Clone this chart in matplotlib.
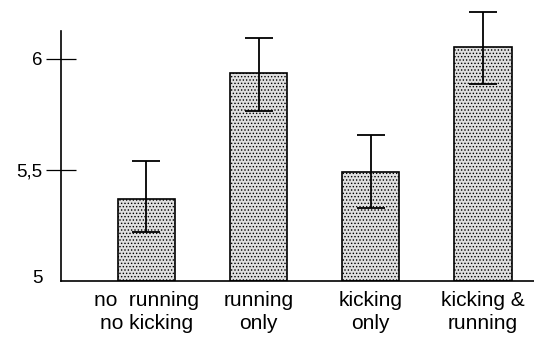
import matplotlib
matplotlib.use("Agg")
import matplotlib.pyplot as plt
import matplotlib.transforms as mtransforms

categories = ["no  running\nno kicking", "running\nonly", "kicking\nonly", "kicking &\nrunning"]
means = [5.37, 5.935, 5.49, 6.055]
err_upper = [5.54, 6.095, 5.658, 6.212]
err_lower = [5.22, 5.766, 5.329, 5.887]
yticks = [5, 5.5, 6]
yticklabels = ["5", "5,5", "6"]

plt.rcParams['font.family'] = ['Liberation Sans', 'DejaVu Sans']
plt.rcParams['hatch.color'] = '#8a8a8a'
plt.rcParams['hatch.linewidth'] = 0.6

fig = plt.figure(figsize=(5.34, 3.40), dpi=100)
ax = fig.add_axes([61/534, 1-281/340, 1-61/534, 250/340])

x = list(range(len(categories)))
bottom = 5
heights = [m - bottom for m in means]
ax.bar(x, heights, bottom=bottom, width=0.51, facecolor='#e0e0e0', edgecolor='black',
       linewidth=1.2, hatch='.....', zorder=2)
yerr = [[m - l for m, l in zip(means, err_lower)], [u - m for m, u in zip(means, err_upper)]]
eb = ax.errorbar(x, means, yerr=yerr, fmt='none', ecolor='black', elinewidth=1.3,
                 capsize=10, capthick=1.3, zorder=3)
for artist in eb.lines[1] + eb.lines[2]:
    artist.set_clip_on(False)

ax.set_xlim(-0.76, 3.455)
ax.set_ylim(5, 6.126)
ax.set_yticks(yticks)
ax.set_yticklabels(yticklabels, fontsize=13.5)
ax.set_xticks(x)
ax.set_xticklabels(categories, fontsize=15, linespacing=1.3)
ax.tick_params(axis='x', length=0, pad=7)
ax.tick_params(axis='y', direction='inout', length=21, width=0.9, pad=3)
first = ax.yaxis.get_major_ticks()[0]
first.tick1line.set_visible(False)
offset = mtransforms.ScaledTranslation(0, 3/72, fig.dpi_scale_trans)
first.label1.set_transform(first.label1.get_transform() + offset)
ax.spines['top'].set_visible(False)
ax.spines['right'].set_visible(False)
ax.spines['left'].set_linewidth(1.2)
ax.spines['bottom'].set_linewidth(1.2)

fig.savefig("out.png", dpi=100)
